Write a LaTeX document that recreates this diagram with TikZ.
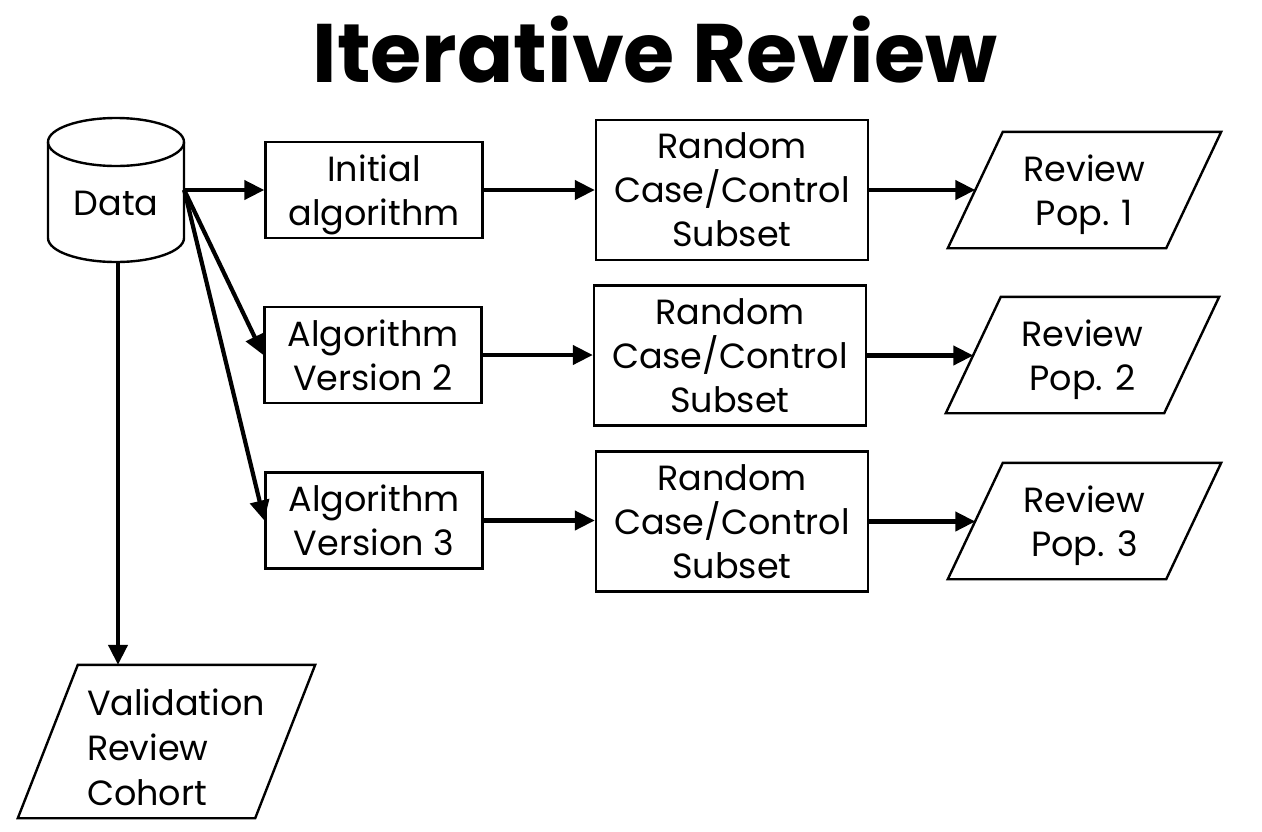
\documentclass[tikz,border=0pt]{standalone}
\usepackage{fontspec}
\setmainfont{Poppins}
\usetikzlibrary{arrows.meta,calc}

\tikzset{
  frame/.style={draw, line width=2.4pt},
  procbox/.style 2 args={frame, minimum width=#1, minimum height=#2,
    inner sep=0pt, align=center, text depth=0pt, font=\fontsize{35}{44}\selectfont},
  iobox/.style 2 args={minimum width=#1, minimum height=#2,
    inner sep=0pt, align=center, text depth=0pt, font=\fontsize{35}{44}\selectfont},
  flow/.style={line width=4.2pt, -{Triangle[length=20pt,width=19pt]}},
}

% parallelogram drawn around a node, top edge shifted right by #2
\newcommand{\slantframe}[2]{%
  \draw[frame] ($(#1.north west)+(#2,0)$) -- ($(#1.north east)+(#2,0)$)
    -- ($(#1.south east)-(#2,0)$) -- ($(#1.south west)-(#2,0)$) -- cycle;}

\begin{document}
\begin{tikzpicture}[x=1pt, y=-1pt]
\useasboundingbox[fill=white] (0,0) rectangle (1262,831);

% title
\node[anchor=base, font=\fontsize{83}{90}\selectfont\bfseries] (title) at (655,82) {Iterative Review};

% data store (cylinder)
\node[minimum width=136, minimum height=144, inner sep=0pt] (data) at (116,190) {};
\draw[frame] (116,142) ellipse [x radius=68, y radius=24];
\draw[frame] (48,142) -- (48,238) arc [start angle=180, end angle=0, x radius=68, y radius=24] -- (184,142);
\node[anchor=base, font=\fontsize{35}{44}\selectfont] (datalabel) at (116,215) {Data};

% algorithms
\node[procbox={217}{96}] (alg1) at (374,190) {Initial\\algorithm};
\node[procbox={217}{96}] (alg2) at (373,355) {Algorithm\\Version 2};
\node[procbox={217}{96}] (alg3) at (374,520.5) {Algorithm\\Version 3};

% random subsets
\node[procbox={272}{140}] (rnd1) at (732,190) {Random\\Case/Control\\Subset};
\node[procbox={272}{140}] (rnd2) at (730,355.5) {Random\\Case/Control\\Subset};
\node[procbox={272}{140}] (rnd3) at (732,521.5) {Random\\Case/Control\\Subset};

% review populations
\node[iobox={218}{116}] (rev1) at (1084.5,190) {Review\\Pop. 1};
\node[iobox={218}{116}] (rev2) at (1082.5,355) {Review\\Pop. 2};
\node[iobox={218}{116}] (rev3) at (1084.5,521) {Review\\Pop. 3};
\slantframe{rev1}{27.5}
\slantframe{rev2}{27.5}
\slantframe{rev3}{27.5}

% validation cohort
\node[minimum width=237, minimum height=153, inner sep=0pt] (val) at (166.5,741.5) {};
\slantframe{val}{30}
\node[anchor=west, align=left, inner sep=0pt, font=\fontsize{35}{45}\selectfont] (vallabel) at ($(val.west)+(39,6)$) {Validation\\Review\\Cohort};

% connectors
\draw[flow] (data.east) -- (alg1.west);
\draw[flow] (data.east) -- (alg2.west);
\draw[flow] (data.east) -- (alg3.west);
\draw[flow] (data.south -| 118,0) -- (val.north -| 118,0);
\foreach \i in {1,2,3}{
  \draw[flow] (alg\i.east) -- (alg\i.east -| rnd\i.west);
  \draw[flow] (rnd\i.east) -- (rnd\i.east -| rev\i.west);
}
\end{tikzpicture}
\end{document}
